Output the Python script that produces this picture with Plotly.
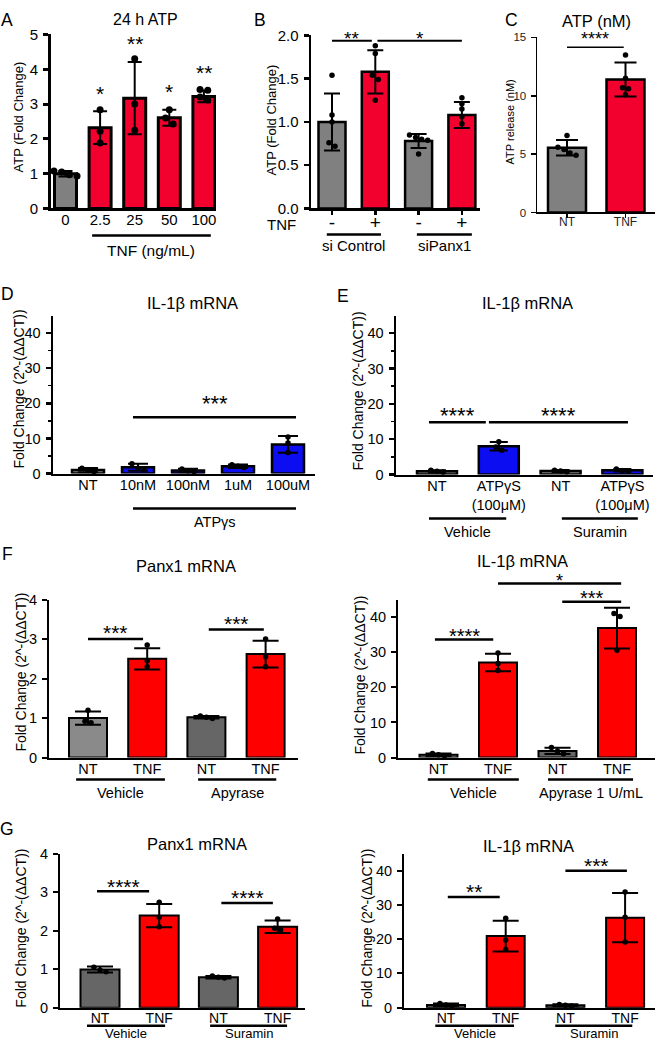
import plotly.graph_objects as go

W, H = 657, 1050
FONT = "Liberation Sans, Arial, Helvetica, sans-serif"

# ------------------------------------------------------------------ data
A_doses = ["0", "2.5", "25", "50", "100"]
A_mean = [1.0, 2.32, 3.17, 2.61, 3.22]
A_sd = [0.08, 0.47, 1.04, 0.23, 0.17]
A_points = [[1.08, 1.05, 0.97, 0.93], [2.84, 2.22, 1.88], [4.30, 3.00, 2.25],
            [2.84, 2.60, 2.43], [3.42, 3.40, 3.20, 3.12]]
A_sig = ["", "*", "**", "*", "**"]

B_tnf = ["-", "+", "-", "+"]
B_mean = [1.0, 1.58, 0.78, 1.08]
B_sd = [0.33, 0.25, 0.08, 0.15]
B_points = [[1.54, 1.08, 1.00, 0.76, 0.72], [1.88, 1.79, 1.54, 1.49, 1.25],
            [0.85, 0.82, 0.80, 0.79, 0.63], [1.28, 1.21, 1.15, 1.06, 0.98]]

C_groups = ["NT", "TNF"]
C_mean = [5.55, 11.4]
C_sd = [0.67, 1.45]
C_points = [[6.6, 5.6, 5.4, 5.1, 4.9], [13.5, 11.5, 10.7, 10.6, 10.1]]

D_groups = ["NT", "10nM", "100nM", "1uM", "100uM"]
D_mean = [1.0, 1.8, 0.9, 2.1, 8.3]
D_sd = [0.6, 1.0, 0.5, 0.5, 2.4]
D_points = [[1.5, 0.9, 0.6], [2.8, 1.5, 1.1], [1.3, 0.8, 0.6], [2.5, 2.1, 1.7], [10.4, 8.7, 6.0]]

E_groups = ["NT", "ATPγS<br>(100μM)", "NT", "ATPγS<br>(100μM)"]
E_mean = [0.9, 8.0, 1.0, 1.2]
E_sd = [0.3, 1.2, 0.3, 0.35]
E_points = [[1.2, 0.9, 0.7], [9.3, 7.8, 6.9], [1.2, 1.0, 0.8], [1.6, 1.1, 0.9]]

NT_TNF = ["NT", "TNF", "NT", "TNF"]
FL_mean = [1.0, 2.5, 1.02, 2.62]
FL_sd = [0.17, 0.27, 0.03, 0.34]
FL_points = [[1.2, 0.92, 0.88], [2.85, 2.45, 2.3], [1.05, 1.02, 0.99], [3.0, 2.55, 2.3]]

FR_mean = [0.8, 27.1, 1.9, 36.9]
FR_sd = [0.4, 2.5, 0.9, 5.8]
FR_points = [[1.2, 0.8, 0.5], [29.8, 26.8, 24.8], [2.9, 1.8, 1.1], [41.0, 40.2, 30.6]]

GL_mean = [0.99, 2.39, 0.79, 2.1]
GL_sd = [0.08, 0.3, 0.03, 0.16]
GL_points = [[1.05, 0.98, 0.93], [2.74, 2.35, 2.1], [0.82, 0.79, 0.77], [2.3, 2.06, 2.02]]

GR_mean = [0.8, 20.9, 0.7, 26.3]
GR_sd = [0.4, 4.5, 0.3, 7.2]
GR_points = [[1.2, 0.8, 0.5], [26.1, 19.8, 17.0], [0.9, 0.7, 0.5], [33.8, 26.4, 19.2]]

# significance brackets: (from bar, to bar, y value, label)
B_brackets = [(0, 0.92, 1.94, "**"), (1.05, 3.0, 1.94, "*")]
C_brackets = [(0, 0.97, 14.15, "****")]
D_brackets = [(0.9, 4.16, 16.0, "***")]
E_brackets = [(-0.13, 0.79, 14.8, "****"), (0.84, 3.09, 14.8, "****")]
FL_brackets = [(0, 0.93, 3.0, "***"), (2.04, 2.97, 3.24, "***")]
FR_brackets_lo = [(-0.06, 0.92, 33.6, "****"), (2.08, 3.07, 44.4, "***")]
FR_brackets_hi = [(1.0, 3.07, 49.6, "*")]
GL_brackets = [(-0.05, 0.83, 3.02, "****"), (2.05, 2.92, 2.72, "****")]
GR_brackets = [(0.03, 0.9, 32.3, "**"), (2.0, 3.03, 40.0, "***")]

# group underlines: (from bar, to bar, label)
A_under = [(0.77, 4.2, "TNF (ng/mL)")]
B_under = [(-0.12, 1.13, "si Control"), (1.96, 3.23, "siPanx1")]
D_under = [(0.9, 4.16, "ATPγs")]
E_under = [(-0.13, 1.12, "Vehicle"), (2.02, 3.25, "Suramin")]
FL_under = [(-0.2, 1.3, "Vehicle"), (1.86, 3.18, "Apyrase")]
FR_under = [(-0.18, 1.35, "Vehicle"), (1.84, 3.27, "Apyrase 1 U/mL")]
GL_under = [(-0.22, 1.1, "Vehicle"), (1.86, 3.16, "Suramin")]
GR_under = [(-0.18, 1.14, "Vehicle"), (1.83, 3.12, "Suramin")]

# ------------------------------------------------------------------ styles
GRAY = "#808080"
CRIMSON = "#f2002e"
BLUE = "#0d0df2"
RED = "#ff0000"
GRAY_L = "#8a8a8a"
GRAY_D = "#666666"

YTITLE = "Fold Change (2^-(ΔΔCT))"

# vertical calibration of the photographed page (page px -> picture px)
SQ_A, SQ_B = 0.9836, 8.56


def pg(t):
    """picture pixel row -> page pixel row"""
    return min((t - SQ_B) / SQ_A, H - 8)


# pixel geometry of each panel (picture pixels)
G = {
    "A": dict(idx=1, left=51, right=216, top=34, bottom=208, c0=65.5, step=34.6, bw=22, ymax=5),
    "B": dict(idx=2, left=311, right=480, top=35, bottom=208, c0=332, step=43.3, bw=27, ymax=2.0),
    "C": dict(idx=3, left=537, right=655, top=37, bottom=212, c0=567, step=58.5, bw=38, ymax=15),
    "D": dict(idx=4, left=53, right=315, top=315, bottom=473, c0=88, step=50, bw=32, ymax=45),
    "E": dict(idx=5, left=396, right=653, top=315, bottom=474, c0=437, step=61.8, bw=40, ymax=45),
    "FL": dict(idx=6, left=49, right=298, top=599, bottom=757, c0=88, step=59.2, bw=38, ymax=4),
    "FR": dict(idx=7, left=398, right=655, top=599, bottom=757, c0=438.5, step=59.5, bw=38, ymax=45),
    "GL": dict(idx=8, left=60, right=305, top=853, bottom=1007, c0=100, step=59.2, bw=39, ymax=4),
    "GR": dict(idx=9, left=404, right=655, top=853, bottom=1007, c0=446, step=59.7, bw=38, ymax=45),
}

fig = go.Figure()
layout = {}
annotations = []
shapes = []


def xp(key, v):
    g = G[key]
    return (g["c0"] + v * g["step"]) / W


def ypx(key, v):
    g = G[key]
    return g["bottom"] - v * (g["bottom"] - g["top"]) / g["ymax"]


def text_px(x, y, text, size=14, **kw):
    d = dict(x=x / W, y=1 - pg(y) / H, xref="paper", yref="paper", text=text, showarrow=False,
             font=dict(family=FONT, size=size, color="black"), xanchor="center", yanchor="middle")
    d.update(kw)
    annotations.append(d)


def hline_px(x0, x1, y, lw=2):
    yy = 1 - pg(y) / H
    shapes.append(dict(type="line", xref="paper", yref="paper", x0=x0, x1=x1,
                       y0=yy, y1=yy, line=dict(color="black", width=lw)))


def spread(vals, ppu, step, dot):
    order = sorted(range(len(vals)), key=lambda i: -vals[i])
    offs = [0.0] * len(vals)
    groups = []
    for i in order:
        if groups and abs(vals[groups[-1][-1]] - vals[i]) * ppu < dot * 0.9:
            groups[-1].append(i)
        else:
            groups.append([i])
    for grp in groups:
        n = len(grp)
        for k, i in enumerate(grp):
            offs[i] = (k - (n - 1) / 2) * dot * 1.1 / step
    return offs


def bar_panel(key, labels, means, sd, points, colors, yticks, ytickfmt=None, axis_lw=2,
              bar_lw=2, cap=8, dot=5.5, ytick_fs=14.5, xtick_fs=14.5, xticks=False,
              minor=False, standoff=-3, tick_color="black"):
    g = G[key]
    i = g["idx"]
    xa = "x" if i == 1 else f"x{i}"
    ya = "y" if i == 1 else f"y{i}"
    n = len(means)
    xs = list(range(n))
    fig.add_trace(go.Bar(
        x=xs, y=means, width=g["bw"] / g["step"],
        marker=dict(color=colors, line=dict(color="black", width=bar_lw)),
        error_y=dict(type="data", array=sd, visible=True, color="black", thickness=2, width=cap),
        xaxis=xa, yaxis=ya, showlegend=False, hoverinfo="skip"))
    ppu = (g["bottom"] - g["top"]) / g["ymax"]
    px_, py_ = [], []
    for k, pts in enumerate(points):
        offs = spread(pts, ppu, g["step"], dot)
        px_ += [k + o for o in offs]
        py_ += list(pts)
    fig.add_trace(go.Scatter(x=px_, y=py_, mode="markers", marker=dict(color="black", size=dot),
                             cliponaxis=False, xaxis=xa, yaxis=ya, showlegend=False, hoverinfo="skip"))
    xr = [(g["left"] - g["c0"]) / g["step"], (g["right"] - g["c0"]) / g["step"]]
    xkey = "xaxis" if i == 1 else f"xaxis{i}"
    ykey = "yaxis" if i == 1 else f"yaxis{i}"
    layout[xkey] = dict(
        domain=[g["left"] / W, g["right"] / W], range=xr, anchor=ya,
        showline=True, linecolor="black", linewidth=axis_lw, showgrid=False, zeroline=False,
        tickmode="array", tickvals=xs, ticktext=labels,
        ticks="outside" if xticks else "", ticklen=4, tickwidth=axis_lw, tickcolor="black",
        ticklabelstandoff=standoff,
        tickfont=dict(family=FONT, size=xtick_fs, color=tick_color), fixedrange=True)
    ydict = dict(
        domain=[1 - pg(g["bottom"]) / H, 1 - pg(g["top"]) / H], range=[0, g["ymax"]], anchor=xa,
        showline=True, linecolor="black", linewidth=axis_lw, showgrid=False, zeroline=False,
        tickmode="array", tickvals=yticks, ticks="outside", ticklen=5, tickwidth=axis_lw,
        tickcolor="black", tickfont=dict(family=FONT, size=ytick_fs, color=tick_color),
        ticklabelstandoff=2, fixedrange=True)
    if ytickfmt:
        ydict["tickformat"] = ytickfmt
    if minor:
        ydict["minor"] = dict(tickmode="array", tickvals=[5, 15, 25, 35], ticks="outside",
                              ticklen=3, tickwidth=1.5, tickcolor="black")
    layout[ykey] = ydict


def brackets(key, items, gap_px, fs=21, lw=2):
    for x0, x1, yv, lab in items:
        y = ypx(key, yv)
        hline_px(xp(key, x0), xp(key, x1), y, lw)
        text_px((xp(key, x0) + xp(key, x1)) / 2 * W, y - gap_px + 0.23 * fs, lab, fs)


def underlines(key, items, line_y, label_y, fs=14.5, lw=2):
    for x0, x1, lab in items:
        hline_px(xp(key, x0), xp(key, x1), line_y, lw)
        text_px((xp(key, x0) + xp(key, x1)) / 2 * W, label_y, lab, fs)


# ------------------------------------------------------------------ panel A
bar_panel("A", A_doses, A_mean, A_sd, A_points, [GRAY] + [CRIMSON] * 4, yticks=[0, 1, 2, 3, 4, 5],
          axis_lw=3, bar_lw=3, cap=7, dot=7, ytick_fs=15, xtick_fs=15, standoff=-4)
for k, lab in enumerate(A_sig):
    if lab:
        y = ypx("A", A_mean[k] + A_sd[k]) - 23
        text_px(xp("A", k) * W, y + 0.23 * 21, lab, 21)
underlines("A", A_under, 235, 250, fs=15.5, lw=2.5)
text_px(145, 19, "24 h ATP", 16)
text_px(18, 117, "ATP (Fold Change)", 13, textangle=-90)

# ------------------------------------------------------------------ panel B
bar_panel("B", B_tnf, B_mean, B_sd, B_points, [GRAY, CRIMSON, GRAY, CRIMSON],
          yticks=[0, 0.5, 1.0, 1.5, 2.0], ytickfmt=".1f", axis_lw=2.5, bar_lw=2.5, cap=8, dot=5.5,
          ytick_fs=15, xtick_fs=19, xticks=True, standoff=-9)
brackets("B", B_brackets, 7, fs=19, lw=2)
underlines("B", B_under, 234, 245, fs=15, lw=2.5)
text_px(298, 224, "TNF", 15, xanchor="right")
text_px(271, 120, "ATP (Fold Change)", 13, textangle=-90)

# ------------------------------------------------------------------ panel C
bar_panel("C", C_groups, C_mean, C_sd, C_points, [GRAY, CRIMSON], yticks=[0, 5, 10, 15],
          axis_lw=1.5, bar_lw=2.5, cap=11, dot=5.5, ytick_fs=11.5, xtick_fs=12, xticks=True,
          standoff=-6, tick_color="#222222")
brackets("C", C_brackets, 13, fs=18, lw=1.5)
text_px(596, 21, "ATP (nM)", 16.5)
text_px(510, 122, "ATP release (nM)", 11, textangle=-90)

# ------------------------------------------------------------------ panel D
bar_panel("D", D_groups, D_mean, D_sd, D_points, [GRAY] + [BLUE] * 4, yticks=[0, 10, 20, 30, 40],
          axis_lw=2.5, bar_lw=2.5, cap=10, dot=5.5, minor=True)
brackets("D", D_brackets, 19, fs=22, lw=2.5)
underlines("D", D_under, 508, 521, lw=2.5)
text_px(192, 302, "IL-1β mRNA", 16.5)
text_px(19, 389, YTITLE, 14, textangle=-90)

# ------------------------------------------------------------------ panel E
bar_panel("E", E_groups, E_mean, E_sd, E_points, [GRAY, BLUE, GRAY, BLUE], yticks=[0, 10, 20, 30, 40],
          axis_lw=2.5, bar_lw=2.5, cap=9, dot=5.5, minor=True)
brackets("E", E_brackets, 12, fs=22, lw=2.5)
underlines("E", E_under, 518, 531, lw=2.5)
text_px(527, 302, "IL-1β mRNA", 16.5)
text_px(358, 391, YTITLE, 14, textangle=-90)

# ------------------------------------------------------------------ panel F
bar_panel("FL", NT_TNF, FL_mean, FL_sd, FL_points, [GRAY_L, RED, GRAY_D, RED], yticks=[0, 1, 2, 3, 4],
          axis_lw=2, bar_lw=2, cap=13, dot=5.5)
brackets("FL", FL_brackets, 11, fs=21, lw=2.5)
underlines("FL", FL_under, 779, 792, lw=2.5)
text_px(186, 565, "Panx1 mRNA", 16.5)
text_px(21, 672, YTITLE, 14, textangle=-90)

bar_panel("FR", NT_TNF, FR_mean, FR_sd, FR_points, [GRAY_L, RED, GRAY_D, RED],
          yticks=[0, 10, 20, 30, 40], axis_lw=2, bar_lw=2, cap=13, dot=5.5)
brackets("FR", FR_brackets_lo, 8, fs=20, lw=2.5)
brackets("FR", FR_brackets_hi, 6.5, fs=18, lw=2.5)
underlines("FR", FR_under, 779, 792, lw=2.5)
text_px(522, 560, "IL-1β mRNA", 16.5)
text_px(360, 675, YTITLE, 14, textangle=-90)

# ------------------------------------------------------------------ panel G
bar_panel("GL", NT_TNF, GL_mean, GL_sd, GL_points, [GRAY_D, RED, GRAY_D, RED], yticks=[0, 1, 2, 3, 4],
          axis_lw=2, bar_lw=2, cap=13, dot=5.5, xtick_fs=14, standoff=-3)
brackets("GL", GL_brackets, 10, fs=21, lw=2.5)
underlines("GL", GL_under, 1025, 1033, fs=13, lw=2.5)
text_px(197, 843, "Panx1 mRNA", 16.5)
text_px(21, 928, YTITLE, 14, textangle=-90)

bar_panel("GR", NT_TNF, GR_mean, GR_sd, GR_points, [GRAY_D, RED, GRAY_D, RED],
          yticks=[0, 10, 20, 30, 40], axis_lw=2, bar_lw=2, cap=13, dot=5.5, xtick_fs=14, standoff=-3)
brackets("GR", GR_brackets, 10, fs=21, lw=2.5)
underlines("GR", GR_under, 1025, 1033, fs=13, lw=2.5)
text_px(528, 845, "IL-1β mRNA", 16.5)
text_px(367, 928, YTITLE, 14, textangle=-90)

# ------------------------------------------------------------------ panel letters
for lab, x, y in [("A", 7, 19.5), ("B", 260, 19.5), ("C", 511, 19.5), ("D", 7, 293), ("E", 343, 295),
                  ("F", 7, 553), ("G", 7, 828)]:
    text_px(x, y, lab, 17.5)

fig.update_layout(
    width=W, height=H, margin=dict(l=0, r=0, t=0, b=0),
    paper_bgcolor="white", plot_bgcolor="white",
    font=dict(family=FONT, color="black"),
    showlegend=False, bargap=0,
    annotations=annotations, shapes=shapes, **layout)

fig.write_html(
    "out.html",
    config={"displayModeBar": False, "staticPlot": True},
    post_script="var gd=document.getElementById('{plot_id}');"
                "gd.style.position='fixed';gd.style.left='0px';gd.style.top='0px';"
                "document.body.style.margin='0';document.body.style.padding='0';"
                "document.documentElement.style.overflow='hidden';document.body.style.overflow='hidden';")
